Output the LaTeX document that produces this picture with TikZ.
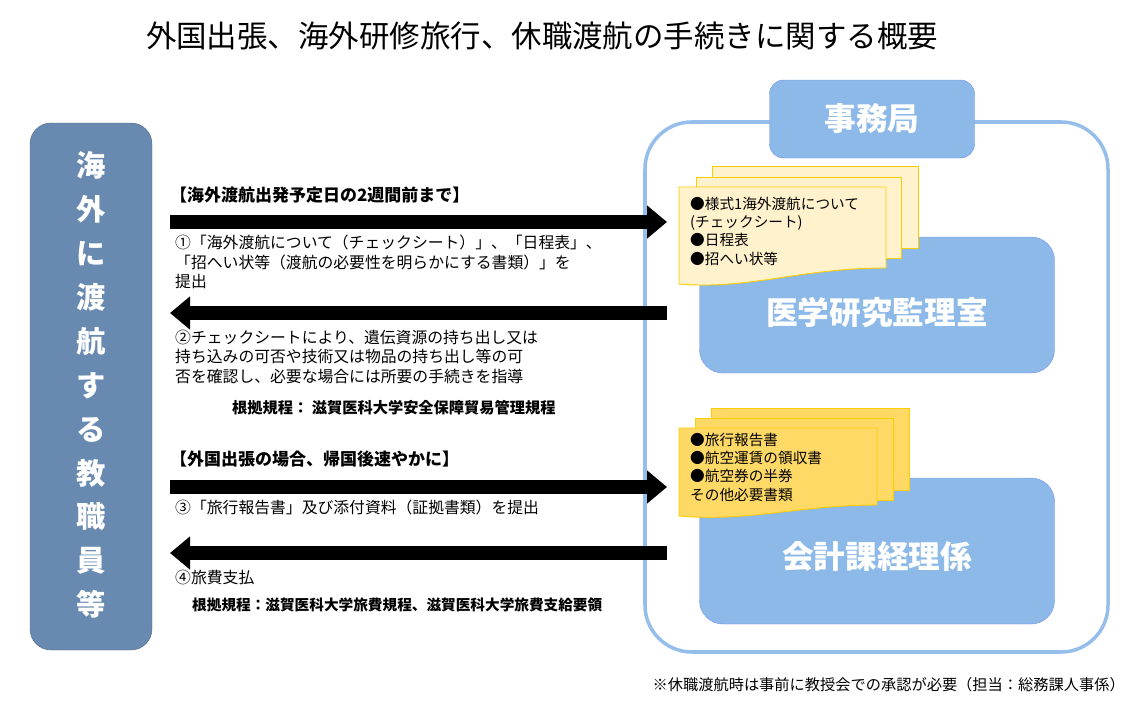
\documentclass[tikz,border=0pt]{standalone}
\usepackage{fontspec}
\setmainfont{Noto Sans CJK JP}
\usetikzlibrary{arrows.meta,positioning}
\definecolor{barblue}{RGB}{104,137,176}
\definecolor{boxblue}{RGB}{141,185,232}
\definecolor{lineblue}{RGB}{150,190,235}
\definecolor{paper}{RGB}{255,242,204}
\definecolor{paperdark}{RGB}{255,217,102}
\definecolor{paperedge}{RGB}{255,204,0}
\tikzset{
  bar/.style={draw=barblue!80!black,fill=barblue,rounded corners=18pt},
  office/.style={draw=lineblue!80!blue,fill=boxblue,rounded corners=20pt,text=white,font=\fontsize{27}{30}\selectfont\bfseries},
  sheet/.style={draw=paperedge,line width=0.8pt},
  note/.style={anchor=north west,align=left,inner sep=0pt,font=\fontsize{13.5}{16.5}\selectfont},
  doc/.style={anchor=north west,align=left,inner sep=0pt,font=\fontsize{12.5}{15.5}\selectfont},
  basis/.style={anchor=west,inner sep=0pt,font=\fontsize{12.5}{14}\selectfont\bfseries},
  flow/.style={line width=14*0.03cm,-{Triangle[width=32*0.03cm,length=20*0.03cm]}},
}
\begin{document}
\begin{tikzpicture}[x=0.03cm,y=-0.03cm]
\useasboundingbox (0,0) rectangle (1139,701);
% title
\node (title) at (542,36) {\fontsize{26}{30}\selectfont 外国出張、海外研修旅行、休職渡航の手続きに関する概要};
% left bar
\draw[bar] (30,123) rectangle (152,650);
\node[text=white,align=center,font=\fontsize{25}{37.5}\selectfont\bfseries] (staff) at (91,385)
  {海\\外\\に\\渡\\航\\す\\る\\教\\職\\員\\等};
% office frame
\draw[lineblue,line width=3pt,rounded corners=40pt] (645,122) rectangle (1108,652);
\node[office,minimum width=205*0.03cm,minimum height=78*0.03cm,rounded corners=12pt] (office) at (872,119) {事務局};
\node[office,minimum width=355*0.03cm,minimum height=136*0.03cm] (audit) at (877,305) {};
\node at (877,313) [text=white,font=\fontsize{27}{30}\selectfont\bfseries] {医学研究監理室};
\node[office,minimum width=355*0.03cm,minimum height=146*0.03cm] (account) at (877,551) {};
\node at (877,556) [text=white,font=\fontsize{27}{30}\selectfont\bfseries] {会計課経理係};
% document stack 1
\draw[sheet,fill=paper] (712,166) rectangle (918,248);
\draw[sheet,fill=paper] (696,177) rectangle (901,258);
\draw[sheet,fill=paper] (679,187) -- (886,187) -- (886,268)
  .. controls (800,268) and (750,290) .. (679,284) -- cycle;
\node[doc] (docs1) at (690,197) {●様式1海外渡航について\\(チェックシート)\\●日程表\\●招へい状等};
% document stack 2
\draw[sheet,fill=paperdark] (711,408) rectangle (909,490);
\draw[sheet,fill=paperdark] (695,418) rectangle (893,500);
\draw[sheet,fill=paperdark] (679,428) -- (877,428) -- (877,505)
  .. controls (800,505) and (750,522) .. (679,516) -- cycle;
\node[doc] (docs2) at (690,433) {●旅行報告書\\●航空運賃の領収書\\●航空券の半券\\その他必要書類};
% arrows
\coordinate (a1) at (170,222); \coordinate (b1) at (667,222);
\coordinate (a2) at (667,313); \coordinate (b2) at (170,313);
\coordinate (a3) at (170,487); \coordinate (b3) at (667,487);
\coordinate (a4) at (667,553); \coordinate (b4) at (170,553);
\draw[flow] (a1) -- (b1);
\draw[flow] (a2) -- (b2);
\draw[flow] (a3) -- (b3);
\draw[flow] (a4) -- (b4);
% texts
\node[note,font=\fontsize{14.5}{17}\selectfont\bfseries] (t1) at (170,187) {【海外渡航出発予定日の2週間前まで】};
\node[note] (t2) at (175,235) {①「海外渡航について（チェックシート）」、「日程表」、\\「招へい状等（渡航の必要性を明らかにする書類）」を\\提出};
\node[note] (t3) at (175,330) {②チェックシートにより、遺伝資源の持ち出し又は\\持ち込みの可否や技術又は物品の持ち出し等の可\\否を確認し、必要な場合には所要の手続きを指導};
\node[basis,font=\fontsize{13}{14}\selectfont\bfseries] (r1) at (232,408) {根拠規程：  滋賀医科大学安全保障貿易管理規程};
\node[note,font=\fontsize{14.5}{17}\selectfont\bfseries] (t4) at (170,451) {【外国出張の場合、帰国後速やかに】};
\node[note] (t5) at (175,500) {③「旅行報告書」及び添付資料（証拠書類）を提出};
\node[note] (t6) at (175,570) {④旅費支払};
\node[basis] (r2) at (192,605) {根拠規程：滋賀医科大学旅費規程、滋賀医科大学旅費支給要領};
\node[anchor=east,inner sep=0pt,font=\fontsize{13}{14}\selectfont] (memo) at (1125,685) {※休職渡航時は事前に教授会での承認が必要（担当：総務課人事係）};
\end{tikzpicture}
\end{document}
